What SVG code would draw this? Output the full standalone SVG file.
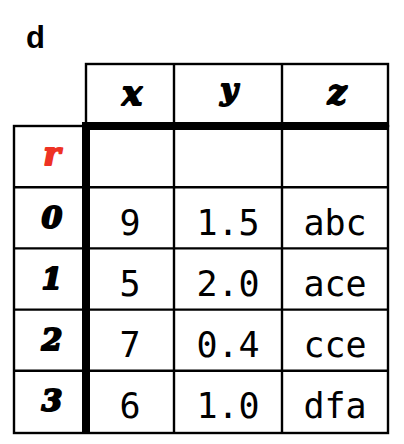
<svg xmlns="http://www.w3.org/2000/svg" width="404" height="444" viewBox="0 0 404 444">
<style>
.thin{stroke:#000;stroke-width:2.4;fill:none}
.thick{fill:#000}
.lbl{font-family:"DejaVu Serif","Liberation Serif",serif;font-weight:bold;font-style:italic;font-size:30px;fill:#000;stroke:#000;stroke-width:2;stroke-linejoin:round;text-anchor:middle}
.red{fill:#ee3224;stroke:#ee3224}
.val{font-family:"DejaVu Sans Mono",monospace;font-size:35px;fill:#000;text-anchor:middle}
.title{font-family:"Liberation Sans",Arial,sans-serif;font-weight:bold;font-size:31px;fill:#000}
</style>
<rect width="404" height="444" fill="#fff"/>
<text class="title" x="26" y="48">d</text>
<g id="grid">
<rect class="thin" x="86" y="64" width="302" height="62"/>
<line class="thin" x1="174" y1="64" x2="174" y2="433"/>
<line class="thin" x1="282" y1="64" x2="282" y2="433"/>
<rect class="thin" x="14" y="126" width="374" height="307"/>
<line class="thin" x1="14" y1="187.2" x2="388" y2="187.2"/>
<line class="thin" x1="14" y1="248.4" x2="388" y2="248.4"/>
<line class="thin" x1="14" y1="309.6" x2="388" y2="309.6"/>
<line class="thin" x1="14" y1="370.8" x2="388" y2="370.8"/>
<rect class="thick" x="82" y="122" width="306" height="8"/>
<rect class="thick" x="82" y="122" width="8" height="311"/>
</g>
<g id="header">
<text class="lbl" x="132" y="105" style="font-size:33px">x</text>
<text class="lbl" x="229" y="100" style="font-size:30px">y</text>
<text class="lbl" x="337" y="104" style="font-size:33px">z</text>
</g>
<g id="index">
<text class="lbl red" x="52" y="165" style="font-size:32px">r</text>
<text class="lbl" x="52" y="228">0</text>
<text class="lbl" x="52" y="289">1</text>
<text class="lbl" x="52" y="350">2</text>
<text class="lbl" x="52" y="411">3</text>
</g>
<g id="values">
<text class="val" x="130" y="234.5">9</text>
<text class="val" x="228" y="234.5">1.5</text>
<text class="val" x="335" y="234.5">abc</text>
<text class="val" x="130" y="295.7">5</text>
<text class="val" x="228" y="295.7">2.0</text>
<text class="val" x="335" y="295.7">ace</text>
<text class="val" x="130" y="356.9">7</text>
<text class="val" x="228" y="356.9">0.4</text>
<text class="val" x="335" y="356.9">cce</text>
<text class="val" x="130" y="418.1">6</text>
<text class="val" x="228" y="418.1">1.0</text>
<text class="val" x="335" y="418.1">dfa</text>
</g>
</svg>
